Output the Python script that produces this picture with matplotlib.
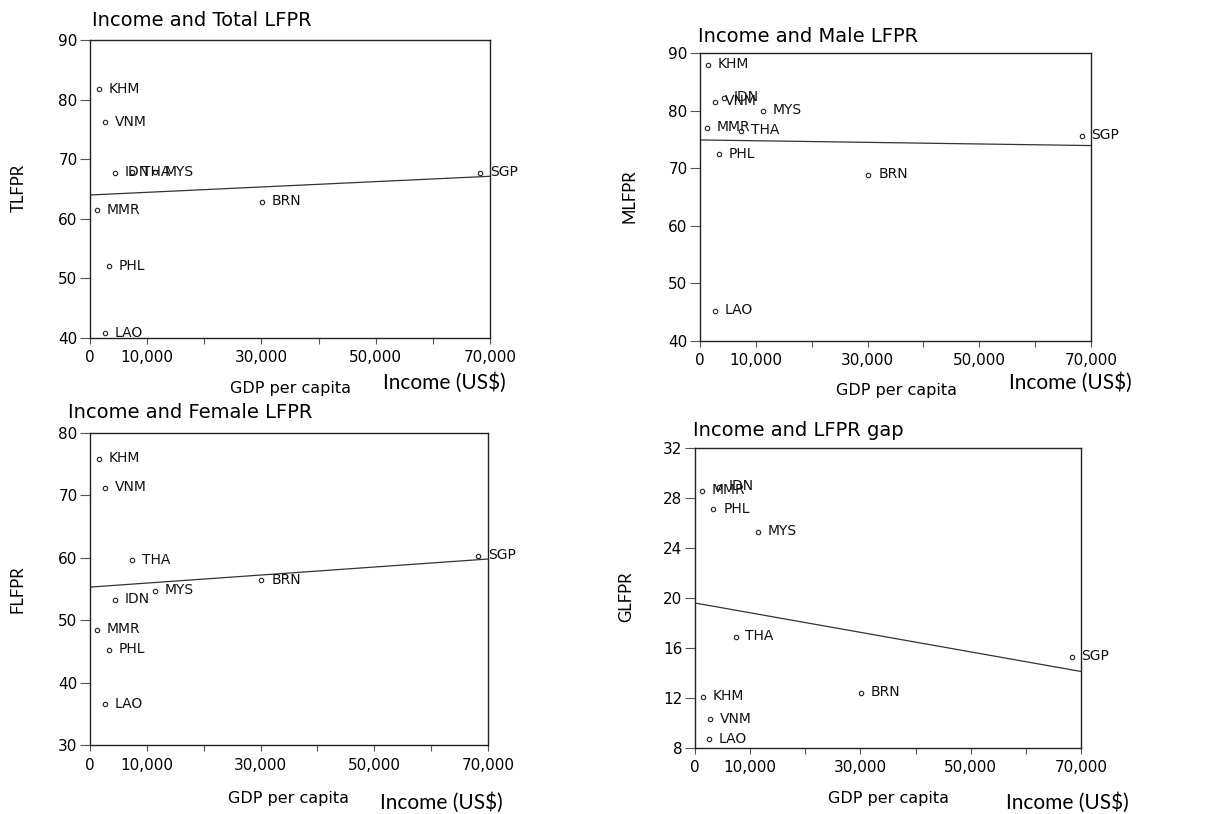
import matplotlib
matplotlib.use("Agg")
import matplotlib.pyplot as plt
import numpy as np

plt.rcParams['font.family'] = ['DejaVu Sans']

# Country codes and GDP per capita (US$)
countries = ['KHM', 'VNM', 'IDN', 'THA', 'MYS', 'SGP', 'BRN', 'MMR', 'PHL', 'LAO']
gdp = [1500, 2700, 4350, 7350, 11350, 68300, 30150, 1200, 3350, 2600]

# Labour force participation rates (%)
tlfpr = [81.7, 76.2, 67.7, 67.8, 67.8, 67.7, 62.8, 61.4, 52.0, 40.8]
mlfpr = [88.0, 81.5, 82.2, 76.5, 80.0, 75.6, 68.8, 77.0, 72.4, 45.2]
flfpr = [75.9, 71.2, 53.3, 59.6, 54.7, 60.3, 56.4, 48.4, 45.3, 36.5]
glfpr = [12.1, 10.3, 28.9, 16.9, 25.3, 15.3, 12.4, 28.6, 27.1, 8.7]

x_ticks = [0, 10000, 20000, 30000, 40000, 50000, 60000, 70000]
x_ticklabels = ['0', '10,000', '', '30,000', '', '50,000', '', '70,000']

fig = plt.figure(figsize=(12.26, 8.14), dpi=100)
W, H = 1226, 814


def px_axes(left, top, right, bottom):
    return fig.add_axes([left / W, 1 - bottom / H, (right - left) / W, (bottom - top) / H])


narrow = ['Lato', 'DejaVu Sans']


def scatter_panel(ax, y, ylim, yticks, ylabel, title, title_xy, ylab_xy, gdp_xy, inc_xy):
    ax.plot(gdp, y, 'o', ms=3.2, mfc='white', mec='#222222', mew=0.8, ls='none', clip_on=False)
    for c, xv, yv in zip(countries, gdp, y):
        ax.annotate(c, (xv, yv), xytext=(7, 0.5), textcoords='offset points',
                    va='center', ha='left', fontsize=10, color='#111111')
    # least squares fit line
    b, a = np.polyfit(gdp, y, 1)
    xs = np.array([0, 70000])
    ax.plot(xs, a + b * xs, color='#333333', lw=0.9)

    ax.set_xlim(0, 70000)
    ax.set_ylim(*ylim)
    ax.set_xticks(x_ticks)
    ax.set_xticklabels(x_ticklabels, fontsize=11)
    ax.set_yticks(yticks)
    ax.set_yticklabels([str(t) for t in yticks], fontsize=11)
    ax.tick_params(axis='x', direction='out', length=4, width=0.8, color='#555555', pad=5)
    ax.tick_params(axis='y', direction='out', length=7, width=0.8, color='#555555', pad=2)
    for s in ax.spines.values():
        s.set_linewidth(1.0)
        s.set_color('#222222')

    fig.text(title_xy[0] / W, 1 - title_xy[1] / H, title, fontsize=14,
             ha='left', va='center')
    fig.text(ylab_xy[0] / W, 1 - ylab_xy[1] / H, ylabel, fontsize=12,
             rotation=90, ha='center', va='center', family=narrow)
    fig.text(gdp_xy[0] / W, 1 - gdp_xy[1] / H, 'GDP per capita', fontsize=11.5,
             ha='center', va='center')
    fig.text(inc_xy[0] / W, 1 - inc_xy[1] / H, 'Income (US$)', fontsize=15,
             ha='center', va='center', family=narrow)


ax1 = px_axes(90, 40, 490, 338)
scatter_panel(ax1, tlfpr, (40, 90), [40, 50, 60, 70, 80, 90], 'TLFPR',
              'Income and Total LFPR', (92, 21), (19, 188), (290, 388), (444, 383))

ax2 = px_axes(700, 53, 1091, 341)
scatter_panel(ax2, mlfpr, (40, 90), [40, 50, 60, 70, 80, 90], 'MLFPR',
              'Income and Male LFPR', (698, 36), (629, 196), (896, 390), (1070, 383))

ax3 = px_axes(90, 433, 488, 745)
scatter_panel(ax3, flfpr, (30, 80), [30, 40, 50, 60, 70, 80], 'FLFPR',
              'Income and Female LFPR', (68, 413), (18, 589), (289, 798), (441, 803))

ax4 = px_axes(695, 448, 1081, 748)
scatter_panel(ax4, glfpr, (8, 32), [8, 12, 16, 20, 24, 28, 32], 'GLFPR',
              'Income and LFPR gap', (693, 430), (626, 597), (888, 798), (1067, 803))

fig.savefig('out.png', dpi=100, facecolor='white')
